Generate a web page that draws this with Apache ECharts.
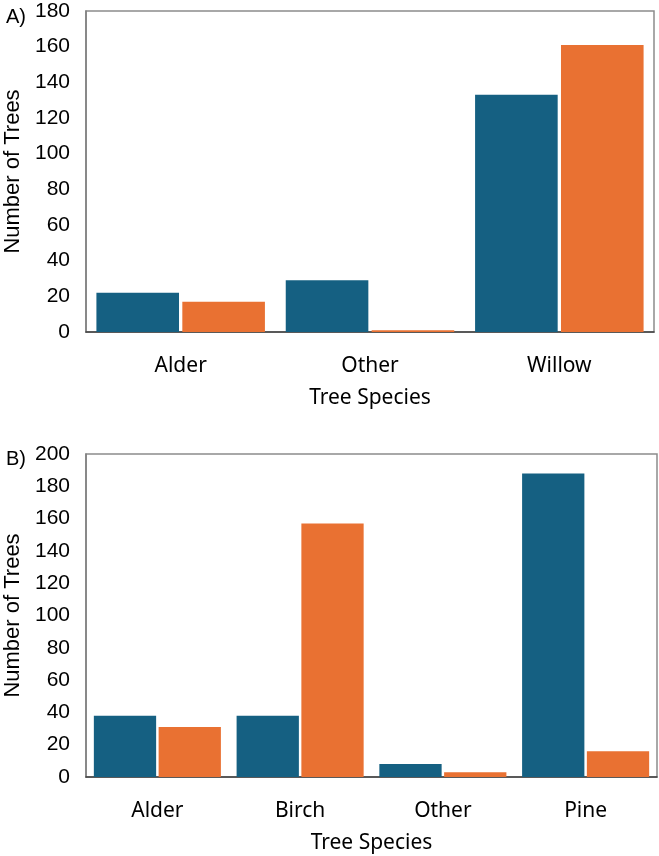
<!DOCTYPE html>
<html lang="en">
<head>
    <meta charset="utf-8">
    <title>Tree species</title>
    <script src="https://cdn.jsdelivr.net/npm/echarts@6/dist/echarts.min.js"></script>
    <style>
        html, body { margin: 0; padding: 0; background: #fff; }
        #container { width: 659px; height: 856px; }
    </style>
</head>
<body>
<div id="container"></div>
<script>
    // panel A
    var catsA = ['Alder', 'Other', 'Willow'];
    var blueA = [22, 29, 133];
    var orangeA = [17, 1, 161];
    // panel B
    var catsB = ['Alder', 'Birch', 'Other', 'Pine'];
    var blueB = [38, 38, 8, 188];
    var orangeB = [31, 157, 3, 16];

    var BLUE = '#156082', ORANGE = '#E97132';
    var numFont = 'Liberation Sans';
    var txtFont = 'Noto Sans';

    function xAx(idx, cats) {
        return {
            type: 'category', gridIndex: idx, data: cats,
            axisLine: { lineStyle: { color: '#404040', width: 1.5 } },
            axisTick: { show: false },
            axisLabel: { margin: 24, fontSize: 21, color: '#000', fontFamily: txtFont },
            name: 'Tree Species', nameLocation: 'middle', nameGap: 56,
            nameTextStyle: { fontSize: 21, color: '#000', fontFamily: txtFont }
        };
    }
    function yAx(idx, max) {
        return {
            type: 'value', gridIndex: idx, min: 0, max: max, interval: 20,
            axisLine: { show: true, lineStyle: { color: '#7f7f7f', width: 1.5 } },
            axisTick: { show: false },
            splitLine: { show: false },
            axisLabel: { margin: 16, fontSize: 21, color: '#000', fontFamily: numFont },
            name: 'Number of Trees', nameLocation: 'middle', nameGap: 57,
            nameTextStyle: { fontSize: 22, color: '#000', fontFamily: numFont }
        };
    }
    function bar(idx, data, color) {
        return {
            type: 'bar', xAxisIndex: idx, yAxisIndex: idx, data: data,
            itemStyle: { color: color }, barGap: '4%', barCategoryGap: '11%',
            animation: false
        };
    }

    var myChart = echarts.init(document.getElementById('container'), null, { renderer: 'canvas' });
    var option = {
        animation: false,
        title: [
            { text: 'A)', left: 1, top: 2, textStyle: { fontSize: 20, fontWeight: 'normal', color: '#000', fontFamily: numFont } },
            { text: 'B)', left: 1, top: 444, textStyle: { fontSize: 20, fontWeight: 'normal', color: '#000', fontFamily: numFont } }
        ],
        grid: [
            { left: 86, top: 11, width: 568, height: 321, outerBoundsMode: 'none', containLabel: false,
              show: true, borderColor: '#8c8c8c', borderWidth: 1.5, backgroundColor: 'transparent' },
            { left: 86, top: 454, width: 571, height: 323, outerBoundsMode: 'none', containLabel: false,
              show: true, borderColor: '#8c8c8c', borderWidth: 1.5, backgroundColor: 'transparent' }
        ],
        xAxis: [xAx(0, catsA), xAx(1, catsB)],
        yAxis: [yAx(0, 180), yAx(1, 200)],
        series: [
            bar(0, blueA, BLUE), bar(0, orangeA, ORANGE),
            bar(1, blueB, BLUE), bar(1, orangeB, ORANGE)
        ]
    };
    myChart.setOption(option, true);
</script>
</body>
</html>
